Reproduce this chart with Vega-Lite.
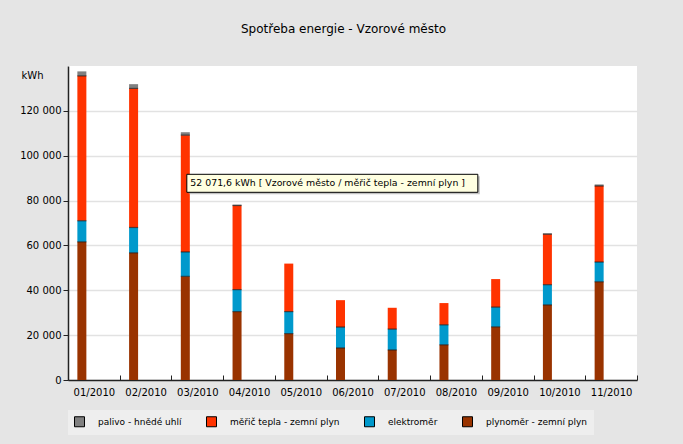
{
  "$schema": "https://vega.github.io/schema/vega-lite/v6.json",
  "width": 569,
  "height": 314,
  "autosize": {"type": "none"},
  "padding": {"left": 68, "top": 66, "right": 46, "bottom": 64},
  "background": "#e5e5e5",
  "title": {
    "text": "Spotřeba energie - Vzorové město",
    "font": "DejaVu Sans",
    "fontSize": 12,
    "fontWeight": "normal",
    "color": "#000000",
    "anchor": "middle",
    "offset": 30,
    "dx": -9
  },
  "config": {
    "view": {"fill": "#ffffff", "stroke": null},
    "font": "DejaVu Sans"
  },
  "layer": [
    {
      "data": {
        "values": [
          {"m": "01/2010", "s": "plynoměr - zemní plyn", "k": 1, "v": 61600},
          {"m": "01/2010", "s": "elektroměr", "k": 2, "v": 9400},
          {"m": "01/2010", "s": "měřič tepla - zemní plyn", "k": 3, "v": 64600},
          {"m": "01/2010", "s": "palivo - hnědé uhlí", "k": 4, "v": 2000},
          {"m": "02/2010", "s": "plynoměr - zemní plyn", "k": 1, "v": 56700},
          {"m": "02/2010", "s": "elektroměr", "k": 2, "v": 11300},
          {"m": "02/2010", "s": "měřič tepla - zemní plyn", "k": 3, "v": 62000},
          {"m": "02/2010", "s": "palivo - hnědé uhlí", "k": 4, "v": 1900},
          {"m": "03/2010", "s": "plynoměr - zemní plyn", "k": 1, "v": 46200},
          {"m": "03/2010", "s": "elektroměr", "k": 2, "v": 10900},
          {"m": "03/2010", "s": "měřič tepla - zemní plyn", "k": 3, "v": 52071.6},
          {"m": "03/2010", "s": "palivo - hnědé uhlí", "k": 4, "v": 1300},
          {"m": "04/2010", "s": "plynoměr - zemní plyn", "k": 1, "v": 30500},
          {"m": "04/2010", "s": "elektroměr", "k": 2, "v": 9800},
          {"m": "04/2010", "s": "měřič tepla - zemní plyn", "k": 3, "v": 37500},
          {"m": "04/2010", "s": "palivo - hnědé uhlí", "k": 4, "v": 400},
          {"m": "05/2010", "s": "plynoměr - zemní plyn", "k": 1, "v": 20700},
          {"m": "05/2010", "s": "elektroměr", "k": 2, "v": 9800},
          {"m": "05/2010", "s": "měřič tepla - zemní plyn", "k": 3, "v": 21400},
          {"m": "06/2010", "s": "plynoměr - zemní plyn", "k": 1, "v": 14300},
          {"m": "06/2010", "s": "elektroměr", "k": 2, "v": 9300},
          {"m": "06/2010", "s": "měřič tepla - zemní plyn", "k": 3, "v": 12000},
          {"m": "07/2010", "s": "plynoměr - zemní plyn", "k": 1, "v": 13400},
          {"m": "07/2010", "s": "elektroměr", "k": 2, "v": 9300},
          {"m": "07/2010", "s": "měřič tepla - zemní plyn", "k": 3, "v": 9500},
          {"m": "08/2010", "s": "plynoměr - zemní plyn", "k": 1, "v": 15700},
          {"m": "08/2010", "s": "elektroměr", "k": 2, "v": 8900},
          {"m": "08/2010", "s": "měřič tepla - zemní plyn", "k": 3, "v": 9700},
          {"m": "09/2010", "s": "plynoměr - zemní plyn", "k": 1, "v": 23700},
          {"m": "09/2010", "s": "elektroměr", "k": 2, "v": 8800},
          {"m": "09/2010", "s": "měřič tepla - zemní plyn", "k": 3, "v": 12500},
          {"m": "10/2010", "s": "plynoměr - zemní plyn", "k": 1, "v": 33500},
          {"m": "10/2010", "s": "elektroměr", "k": 2, "v": 9000},
          {"m": "10/2010", "s": "měřič tepla - zemní plyn", "k": 3, "v": 22500},
          {"m": "10/2010", "s": "palivo - hnědé uhlí", "k": 4, "v": 400},
          {"m": "11/2010", "s": "plynoměr - zemní plyn", "k": 1, "v": 43800},
          {"m": "11/2010", "s": "elektroměr", "k": 2, "v": 8800},
          {"m": "11/2010", "s": "měřič tepla - zemní plyn", "k": 3, "v": 33900},
          {"m": "11/2010", "s": "palivo - hnědé uhlí", "k": 4, "v": 700}
        ]
      },
      "transform": [
        {"stack": "v", "groupby": ["m"], "sort": [{"field": "k", "order": "ascending"}], "as": ["v0", "v1"]}
      ],
      "layer": [
        {
          "mark": {"type": "bar", "width": 9, "xOffset": -12},
          "encoding": {
            "x": {
              "field": "m",
              "type": "nominal",
              "scale": {"paddingInner": 0, "paddingOuter": 0},
              "axis": {
                "title": null,
                "labelAngle": 0,
                "labelFont": "DejaVu Sans",
                "labelFontSize": 10,
                "labelColor": "#000000",
                "labelPadding": 12,
                "tickBand": "extent",
                "tickSize": -5,
                "tickColor": "#222222",
                "domainColor": "#222222",
                "domainWidth": 1.5,
                "grid": false
              }
            },
            "y": {
              "field": "v0",
              "type": "quantitative",
              "title": "kWh",
              "scale": {"domain": [0, 140000], "nice": false},
              "axis": {
                "values": [0, 20000, 40000, 60000, 80000, 100000, 120000],
                "labelExpr": "replace(format(datum.value, ','), ',', ' ')",
                "labelFont": "DejaVu Sans",
                "labelFontSize": 10,
                "labelColor": "#000000",
                "labelPadding": 2,
                "tickSize": 5,
                "tickColor": "#222222",
                "domainColor": "#222222",
                "domainWidth": 1.5,
                "grid": true,
                "gridColor": "#e2e2e2",
                "gridWidth": 1.5,
                "titleAngle": 0,
                "titleX": -36,
                "titleY": 9,
                "titleAlign": "center",
                "titleBaseline": "middle",
                "titleFont": "DejaVu Sans",
                "titleFontSize": 10,
                "titleFontWeight": "normal",
                "titleColor": "#000000"
              }
            },
            "y2": {"field": "v1"},
            "color": {
              "field": "s",
              "type": "nominal",
              "scale": {
                "domain": ["palivo - hnědé uhlí", "měřič tepla - zemní plyn", "elektroměr", "plynoměr - zemní plyn"],
                "range": ["#808080", "#ff3300", "#0099cc", "#993300"]
              },
              "legend": {
                "title": null,
                "orient": "none",
                "legendX": 0,
                "legendY": 344,
                "direction": "horizontal",
                "fillColor": "#eeeeee",
                "padding": 6,
                "symbolType": "square",
                "symbolSize": 100,
                "symbolStrokeColor": "#000000",
                "symbolStrokeWidth": 1,
                "symbolOpacity": 1,
                "labelFont": "DejaVu Sans",
                "labelFontSize": 9,
                "labelColor": "#000000",
                "labelOffset": 13,
                "columnPadding": 22,
                "labelLimit": 200
              }
            }
          }
        },
        {
          "transform": [{"filter": "datum.k > 1"}],
          "mark": {"type": "tick", "orient": "horizontal", "size": 9, "thickness": 1.2, "color": "#1a1a1a", "xOffset": -12},
          "encoding": {
            "x": {"field": "m", "type": "nominal"},
            "y": {"field": "v0", "type": "quantitative", "title": "kWh"}
          }
        }
      ]
    },
    {
      "data": {
        "values": [
          {"m": "03/2010", "a": 87700, "t": "52 071,6 kWh [ Vzorové město / měřič tepla - zemní plyn ]"}
        ]
      },
      "layer": [
        {
          "mark": {"type": "bar", "width": 291, "xOffset": 137, "yOffset": -7, "y2Offset": 11, "fill": "#999999", "opacity": 0.6},
          "encoding": {
            "x": {"field": "m", "type": "nominal"},
            "y": {"field": "a", "type": "quantitative", "title": "kWh"},
            "y2": {"field": "a"}
          }
        },
        {
          "mark": {"type": "bar", "width": 291, "xOffset": 135, "yOffset": -9, "y2Offset": 9, "fill": "#ffffe1", "stroke": "#000000", "strokeWidth": 1},
          "encoding": {
            "x": {"field": "m", "type": "nominal"},
            "y": {"field": "a", "type": "quantitative", "title": "kWh"},
            "y2": {"field": "a"}
          }
        },
        {
          "mark": {"type": "text", "align": "left", "baseline": "middle", "xOffset": -7, "font": "DejaVu Sans", "fontSize": 9.4, "color": "#000000"},
          "encoding": {
            "x": {"field": "m", "type": "nominal"},
            "y": {"field": "a", "type": "quantitative", "title": "kWh"},
            "text": {"field": "t"}
          }
        }
      ]
    }
  ]
}
